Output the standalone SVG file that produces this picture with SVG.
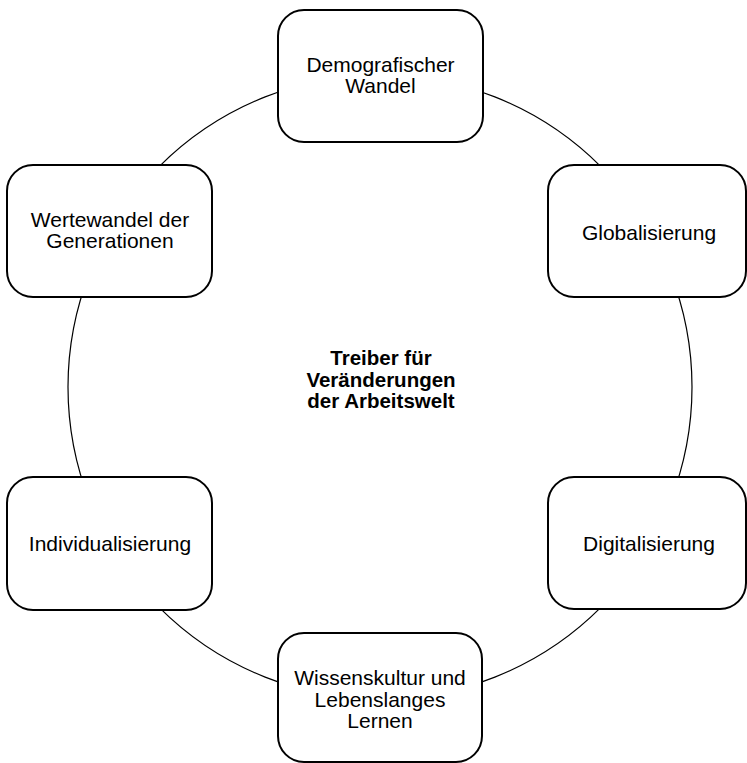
<svg xmlns="http://www.w3.org/2000/svg" width="747" height="763" viewBox="0 0 747 763">
<style>
.box{fill:#ffffff;stroke:#000000;stroke-width:2}
.t{font-family:"Liberation Sans",Arial,sans-serif;font-size:21px;fill:#000000;text-anchor:middle}
.b{font-weight:bold;font-size:20.5px}
.ring{fill:none;stroke:#000000;stroke-width:1.2}
</style>
<rect width="747" height="763" fill="#ffffff"/>
<g id="connectors">
<circle class="ring" cx="380" cy="387" r="312"/>
</g>
<g id="center">
<text class="t b" x="381" y="365">Treiber für</text>
<text class="t b" x="381" y="386.7">Veränderungen</text>
<text class="t b" x="381" y="408.3">der Arbeitswelt</text>
</g>
<g id="demografischer-wandel">
<rect class="box" x="278" y="10" width="205" height="132" rx="26"/>
<text class="t" x="380.5" y="71.7">Demografischer</text>
<text class="t" x="380.5" y="93.3">Wandel</text>
</g>
<g id="globalisierung">
<rect class="box" x="548" y="165" width="198" height="132" rx="26"/>
<text class="t" x="649" y="239.5">Globalisierung</text>
</g>
<g id="digitalisierung">
<rect class="box" x="548" y="477" width="198" height="132" rx="26"/>
<text class="t" x="649" y="550.5">Digitalisierung</text>
</g>
<g id="wissenskultur">
<rect class="box" x="278" y="633" width="204" height="129" rx="26"/>
<text class="t" x="380" y="685">Wissenskultur und</text>
<text class="t" x="380" y="706.7">Lebenslanges</text>
<text class="t" x="380" y="728.3">Lernen</text>
</g>
<g id="individualisierung">
<rect class="box" x="7" y="477" width="205" height="133" rx="26"/>
<text class="t" x="110" y="550.5">Individualisierung</text>
</g>
<g id="wertewandel">
<rect class="box" x="7" y="165" width="205" height="132" rx="26"/>
<text class="t" x="110" y="226.7">Wertewandel der</text>
<text class="t" x="110" y="248.3">Generationen</text>
</g>
</svg>
